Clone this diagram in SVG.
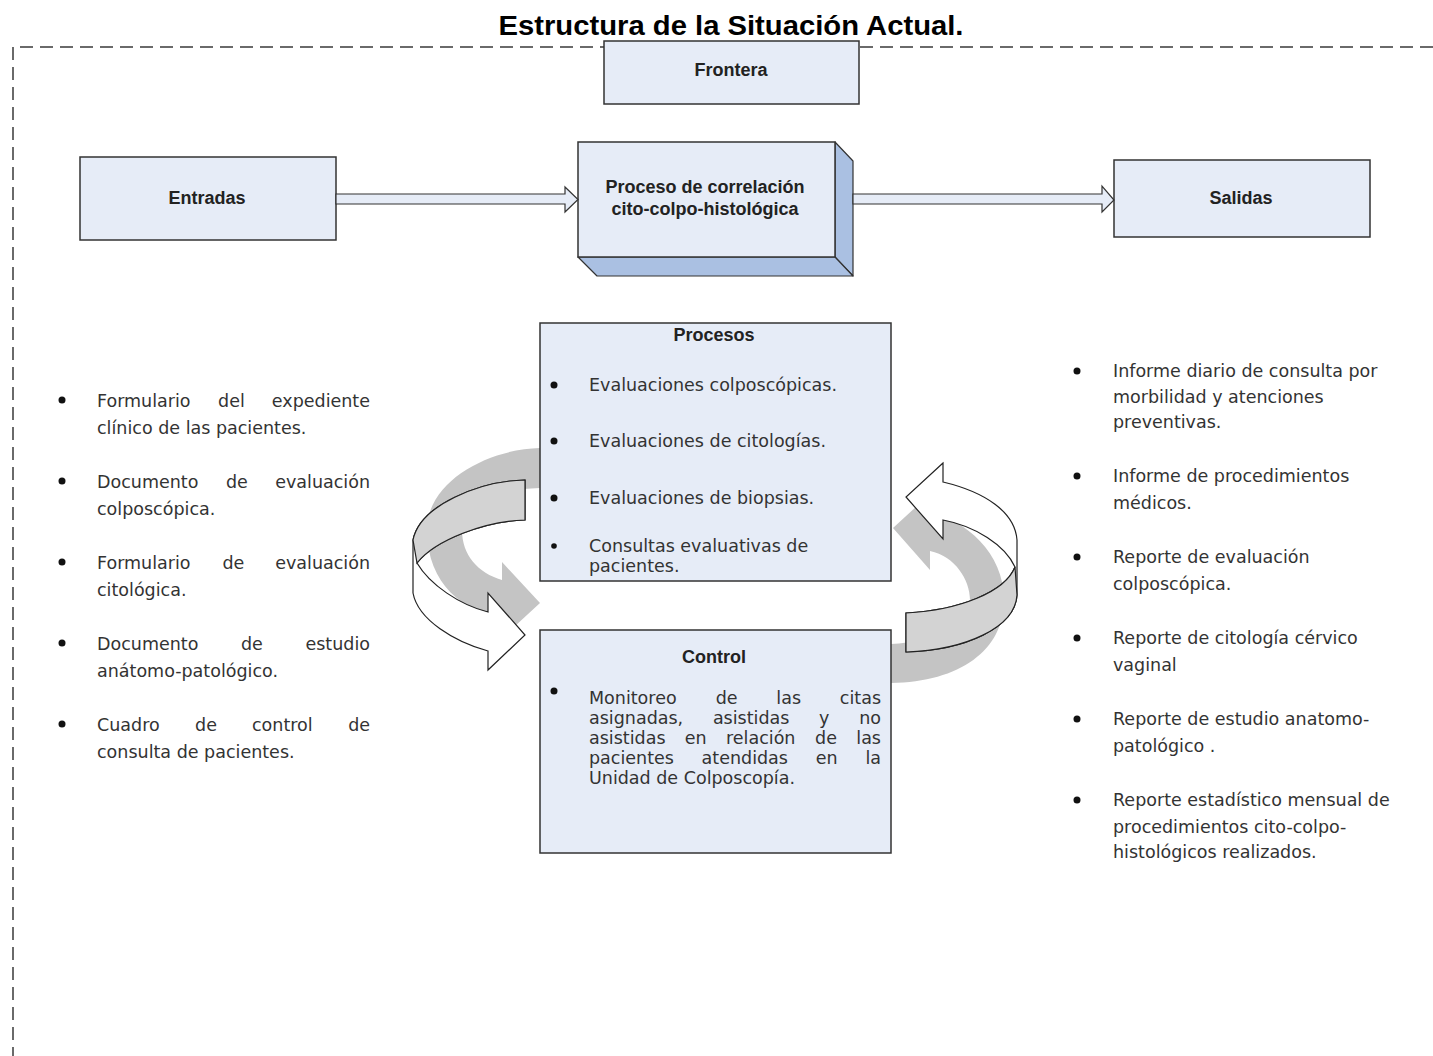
<svg xmlns="http://www.w3.org/2000/svg" width="1433" height="1056" viewBox="0 0 1433 1056">
<style>
.box{fill:#E6ECF7;stroke:#333;stroke-width:1.5}
.side{fill:#AAC0E2;stroke:#333;stroke-width:1.2;stroke-linejoin:round}
.lbl{font-family:"Liberation Sans",Arial,sans-serif;font-weight:bold;font-size:18px;fill:#222;text-anchor:middle}
.txt{font-family:"DejaVu Sans",Verdana,sans-serif;font-size:17.5px;fill:#333}
.end{text-anchor:end}
.bul{fill:#111}
.conn{fill:#E6ECF7;stroke:#333;stroke-width:1.2;stroke-linejoin:miter}
.shadow{fill:#C4C4C4;stroke:none}
.front{fill:#FFFFFF;stroke:#222;stroke-width:1.2;stroke-linejoin:miter}
.frontg{fill:#D3D3D3;stroke:#222;stroke-width:1.2}
.border{fill:none;stroke:#3a3a3a;stroke-width:1.5;stroke-dasharray:13 7}
</style>
<rect width="1433" height="1056" fill="#fff"/>
<text x="731" y="35" font-family="Liberation Sans,Arial,sans-serif" font-weight="bold" font-size="27" text-anchor="middle" fill="#000" textLength="465" lengthAdjust="spacingAndGlyphs">Estructura de la Situación Actual.</text>
<path class="border" d="M1433,47 L13,47 L13,1056"/>

<g id="frontera"><rect class="box" x="604" y="41" width="255" height="63"/><text class="lbl" x="731" y="76">Frontera</text></g>
<g id="entradas"><rect class="box" x="80" y="157" width="256" height="83"/><text class="lbl" x="207" y="204">Entradas</text></g>
<g id="proceso">
<polygon class="side" points="835,142 853,161 853,276 835,257"/>
<polygon class="side" points="578,257 835,257 853,276 597,276"/>
<rect class="box" x="578" y="142" width="257" height="115"/>
<text class="lbl" x="705" y="193">Proceso de correlación</text>
<text class="lbl" x="705" y="215">cito-colpo-histológica</text>
</g>
<g id="salidas"><rect class="box" x="1114" y="160" width="256" height="77"/><text class="lbl" x="1241" y="204">Salidas</text></g>

<g id="connectors">
<polygon class="conn" points="336,194 565,194 565,187 578,199.5 565,212 565,204 336,204"/>
<polygon class="conn" points="853,194 1102,194 1102,186 1114,200 1102,212 1102,204 853,204"/>
</g>

<g id="ciclo-sombra">
<path class="shadow" d="M540,448 C490,449 427,480 427,530 C427,585 465,612 502,618 L502,638 L540,603 L502,562 L502,580 C478,573 462,555 462,530 C462,505 495,489 540,488 Z"/>
<path class="shadow" d="M930,494 L893,528 L930,570 L930,551 C955,556 970,580 970,600 C970,625 935,642 891,644 L891,683 C960,682 1004,650 1004,600 C1004,552 965,520 930,513 Z"/>
</g>

<g id="procesos">
<rect class="box" x="540" y="323" width="351" height="258"/>
<text class="lbl" x="714" y="341">Procesos</text>
<circle class="bul" cx="554" cy="385" r="3.5"/><text class="txt" x="589" y="391">Evaluaciones colposcópicas.</text>
<circle class="bul" cx="554" cy="441" r="3.5"/><text class="txt" x="589" y="447">Evaluaciones de citologías.</text>
<circle class="bul" cx="554" cy="498" r="3.5"/><text class="txt" x="589" y="504">Evaluaciones de biopsias.</text>
<circle class="bul" cx="554" cy="546" r="2.8"/><text class="txt" x="589" y="552">Consultas evaluativas de</text>
<text class="txt" x="589" y="572">pacientes.</text>
</g>

<g id="control">
<rect class="box" x="540" y="630" width="351" height="223"/>
<text class="lbl" x="714" y="663">Control</text>
<circle class="bul" cx="554" cy="691" r="3.5"/>
<text class="txt" y="704"><tspan x="589">Monitoreo</tspan><tspan x="715.7">de</tspan><tspan x="776.3">las</tspan></text>
<text class="txt end" x="881" y="704">citas</text>
<text class="txt" y="724"><tspan x="589">asignadas,</tspan><tspan x="712.9">asistidas</tspan><tspan x="819.1">y</tspan></text>
<text class="txt end" x="881" y="724">no</text>
<text class="txt" y="744"><tspan x="589">asistidas</tspan><tspan x="684.8">en</tspan><tspan x="726">relación</tspan><tspan x="815.1">de</tspan></text>
<text class="txt end" x="881" y="744">las</text>
<text class="txt" y="764"><tspan x="589">pacientes</tspan><tspan x="701.6">atendidas</tspan><tspan x="815.7">en</tspan></text>
<text class="txt end" x="881" y="764">la</text>
<text class="txt" x="589" y="784">Unidad de Colposcopía.</text>
</g>

<g id="ciclo-frente">
<path class="front" d="M525,480 L525,520 C485,521 435,540 417,563 C430,585 460,605 488,612 L488,593 L525,635 L488,670 L488,651 C455,642 418,620 413,593 L413,540 C420,505 480,481 525,480 Z"/>
<path class="frontg" d="M525,480 C480,481 420,505 413,540 L417,563 C435,540 485,521 525,520 Z"/>
<path class="front" d="M943,463 L906,497 L943,539 L943,520 C975,526 1005,545 1015,567 C1005,592 960,610 906,613 L906,652 C965,650 1015,628 1017,595 L1017,540 C1015,512 985,492 943,482 Z"/>
<path class="frontg" d="M1015,567 C1005,592 960,610 906,613 L906,652 C965,650 1015,628 1017,595 Z"/>
</g>

<g id="entradas-lista">
<circle class="bul" cx="62" cy="400" r="3.5"/>
<text class="txt" y="407"><tspan x="97">Formulario</tspan><tspan x="218.1">del</tspan></text>
<text class="txt end" x="370" y="407">expediente</text>
<text class="txt" x="97" y="434">clínico de las pacientes.</text>
<circle class="bul" cx="62" cy="481" r="3.5"/>
<text class="txt" y="488"><tspan x="97">Documento</tspan><tspan x="225.9">de</tspan></text>
<text class="txt end" x="370" y="488">evaluación</text>
<text class="txt" x="97" y="515">colposcópica.</text>
<circle class="bul" cx="62" cy="562" r="3.5"/>
<text class="txt" y="569"><tspan x="97">Formulario</tspan><tspan x="222.4">de</tspan></text>
<text class="txt end" x="370" y="569">evaluación</text>
<text class="txt" x="97" y="596">citológica.</text>
<circle class="bul" cx="62" cy="643" r="3.5"/>
<text class="txt" y="650"><tspan x="97">Documento</tspan><tspan x="241">de</tspan></text>
<text class="txt end" x="370" y="650">estudio</text>
<text class="txt" x="97" y="677">anátomo-patológico.</text>
<circle class="bul" cx="62" cy="724" r="3.5"/>
<text class="txt" y="731"><tspan x="97">Cuadro</tspan><tspan x="195.1">de</tspan><tspan x="252">control</tspan></text>
<text class="txt end" x="370" y="731">de</text>
<text class="txt" x="97" y="758">consulta de pacientes.</text>
</g>

<g id="salidas-lista">
<circle class="bul" cx="1077" cy="371" r="3.5"/>
<text class="txt" x="1113" y="377">Informe diario de consulta por</text>
<text class="txt" x="1113" y="403">morbilidad y atenciones</text>
<text class="txt" x="1113" y="428">preventivas.</text>
<circle class="bul" cx="1077" cy="476" r="3.5"/>
<text class="txt" x="1113" y="482">Informe de procedimientos</text>
<text class="txt" x="1113" y="509">médicos.</text>
<circle class="bul" cx="1077" cy="557" r="3.5"/>
<text class="txt" x="1113" y="563">Reporte de evaluación</text>
<text class="txt" x="1113" y="590">colposcópica.</text>
<circle class="bul" cx="1077" cy="638" r="3.5"/>
<text class="txt" x="1113" y="644">Reporte de citología cérvico</text>
<text class="txt" x="1113" y="671">vaginal</text>
<circle class="bul" cx="1077" cy="719" r="3.5"/>
<text class="txt" x="1113" y="725">Reporte de estudio anatomo-</text>
<text class="txt" x="1113" y="752">patológico .</text>
<circle class="bul" cx="1077" cy="800" r="3.5"/>
<text class="txt" x="1113" y="806">Reporte estadístico mensual de</text>
<text class="txt" x="1113" y="833">procedimientos cito-colpo-</text>
<text class="txt" x="1113" y="858">histológicos realizados.</text>
</g>
</svg>
